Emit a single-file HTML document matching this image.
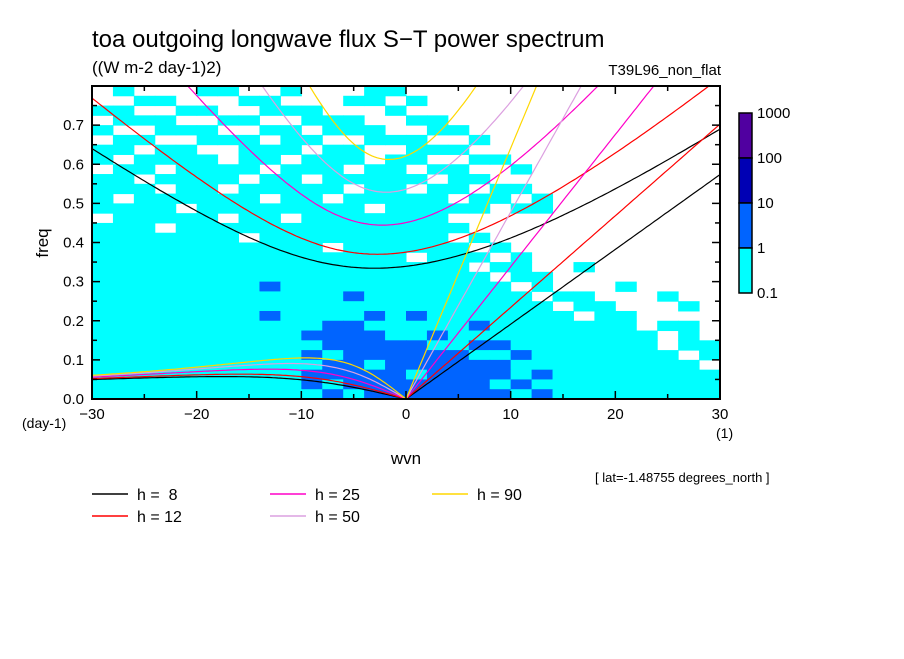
<!DOCTYPE html>
<html><head><meta charset="utf-8"><style>
html,body{margin:0;padding:0;background:#fff;}
svg text{font-family:"Liberation Sans",sans-serif;fill:#000;}
</style></head><body>
<svg id="chart" width="904" height="654" viewBox="0 0 904 654" xmlns="http://www.w3.org/2000/svg">
<defs><clipPath id="plotclip"><rect x="92" y="86" width="628" height="313"/></clipPath></defs>
<text x="92" y="47" font-size="24">toa outgoing longwave flux S−T power spectrum</text>
<text x="92" y="73" font-size="17">((W m-2 day-1)2)</text>
<text x="721" y="75" font-size="15" text-anchor="end">T39L96_non_flat</text>
<g id="heat" clip-path="url(#plotclip)"></g>
<g id="curves" clip-path="url(#plotclip)"></g>
<rect x="92" y="86" width="628" height="313" fill="none" stroke="#000" stroke-width="2"/>
<g id="axes"></g>
<text x="48" y="243" font-size="17" text-anchor="middle" transform="rotate(-90 48 243)">freq</text>
<text x="22" y="428" font-size="14">(day-1)</text>
<text x="716" y="438" font-size="14">(1)</text>
<text x="406" y="464" font-size="17" text-anchor="middle">wvn</text>
<text x="595" y="482" font-size="13">[ lat=-1.48755 degrees_north ]</text>
<g id="cbar"></g>
<g id="legend"></g>
</svg>
<script>
const depths = [8, 12, 25, 50, 90];
const depthColors = ['#000000', '#ff0000', '#ff00c8', '#dca0e0', '#ffd700'];
const legendLabels = ['h =  8', 'h = 12', 'h = 25', 'h = 50', 'h = 90'];
const levelColors = ['#ffffff', '#00ffff', '#0064ff', '#0000b4', '#5000a0'];
const colorbarLabels = ['1000', '100', '10', '1', '0.1'];
const xTicks = [-30, -20, -10, 0, 10, 20, 30];
const yTicks = [0.0, 0.1, 0.2, 0.3, 0.4, 0.5, 0.6, 0.7];
// heatmap levels: rows from freq 0.80 (top) down to 0.00, each 0.025; columns wvn -30..30 in steps of 2
const heatRows = [
"010001100100011000000000000000",
"001100011000110100000000000000",
"110011001110001000000000000000",
"011100110011100110000000000000",
"100111001101110011000000000000",
"011001110110011100100000000000",
"110110011101100111000000000000",
"101111011011101100110000000000",
"011011110111011011001000000000",
"110111101101111101100000000000",
"111011011111011011011000000000",
"101111110110111110110100000000",
"111101111111101111101100000000",
"011111011011111110000000000000",
"111011111111111111000000000000",
"111111101111111110100000000000",
"111111111110111111010000000000",
"111111111111111011101000000000",
"111111111111111111011001000000",
"111111111111111111101100000000",
"111111112111111111110100010000",
"111111111111211111111011000100",
"111111111111111111111101100010",
"111111112111121211111110110000",
"111111111112211111211111110110",
"111111111122221121111111111010",
"111111111112222211221111111011",
"111111111121222222112111111101",
"111111111112212222221111111110",
"111111111122222122221211111111",
"111111111121222222212111111111",
"111111111112122222221211111111"
];
const NS='http://www.w3.org/2000/svg';
const X0=92,X1=720,Y0=399,Y1=86;
function xs(k){return X0+(k+30)/60*(X1-X0);}
function ys(f){return Y0-f/0.8*(Y0-Y1);}
function mk(tag,attrs,parent){const e=document.createElementNS(NS,tag);for(const a in attrs)e.setAttribute(a,attrs[a]);parent.appendChild(e);return e;}
const heat=document.getElementById('heat');
const rowH=0.8/heatRows.length;
heatRows.forEach((row,r)=>{
  for(let c=0;c<row.length;c++){
    const lv=+row[c]; if(lv===0) continue;
    const k0=-30+2*c, f1=0.8-rowH*r, f0=f1-rowH;
    const e=mk('rect',{x:xs(k0),y:ys(f1),width:xs(k0+2)-xs(k0)+0.5,height:ys(f0)-ys(f1)+0.5,fill:levelColors[lv]},heat);
    
    
  }
});
const g=9.81,Rad=6.371e6,Om=7.292e-5,beta=2*Om/Rad,cpd=86400/(2*Math.PI);
function roots(s,c){
  const kk=s/Rad;
  const p=-(kk*kk*c*c+3*beta*c), q=-beta*kk*c*c;
  const m=2*Math.sqrt(-p/3);
  const th=Math.acos(Math.max(-1,Math.min(1,(3*q/(2*p))*Math.sqrt(-3/p))))/3;
  const r=[0,1,2].map(i=>m*Math.cos(th-2*Math.PI*i/3));
  r.sort((a,b)=>b-a);return r;
}
const curves=document.getElementById('curves');
depths.forEach((h,i)=>{
  const c=Math.sqrt(g*h);
  let ig=[],er=[],kv=[];
  for(let s=-30;s<=30.001;s+=0.25){
    const r=roots(s,c);
    ig.push([xs(s),ys(r[0]*cpd)]);
    if(s<=0) er.push([xs(s),ys(Math.max(0,r[1])*cpd)]);
    if(s>=0) kv.push([xs(s),ys(c*s/Rad*cpd)]);
  }
  [['ig',ig],['er',er],['kelvin',kv]].forEach(([n,pts])=>{
    const e=mk('polyline',{points:pts.map(p=>p[0].toFixed(1)+','+p[1].toFixed(1)).join(' '),fill:'none',stroke:depthColors[i],'stroke-width':1.2},curves);
    
    
  });
});
const axes=document.getElementById('axes');
for(let k=-30;k<=30;k+=5){
  const L=(k%10===0)?8:5;
  mk('line',{x1:xs(k),y1:Y0,x2:xs(k),y2:Y0-L,stroke:'#000','stroke-width':1.5},axes);
  mk('line',{x1:xs(k),y1:Y1,x2:xs(k),y2:Y1+L,stroke:'#000','stroke-width':1.5},axes);
}
for(let j=0;j<=16;j++){
  const f=j*0.05,L=(j%2===0)?8:5;
  mk('line',{x1:X0,y1:ys(f),x2:X0+L,y2:ys(f),stroke:'#000','stroke-width':1.5},axes);
  mk('line',{x1:X1,y1:ys(f),x2:X1-L,y2:ys(f),stroke:'#000','stroke-width':1.5},axes);
}
xTicks.forEach(k=>{
  const t=mk('text',{x:xs(k),y:419,'font-size':15,'text-anchor':'middle'},axes);
  t.textContent=(k<0?'−':'')+Math.abs(k);
  
  
});
yTicks.forEach(f=>{
  const t=mk('text',{x:84,y:ys(f)+5,'font-size':15,'text-anchor':'end'},axes);
  t.textContent=f.toFixed(1);
  
  
});
const cb=document.getElementById('cbar');
const cbTop=113,cbH=45;
for(let i=0;i<4;i++){
  const e=mk('rect',{x:739,y:cbTop+i*cbH,width:13,height:cbH,fill:levelColors[4-i],stroke:'#000','stroke-width':1.5},cb);
  
  
}
colorbarLabels.forEach((l,i)=>{
  const t=mk('text',{x:757,y:cbTop+i*cbH+5,'font-size':15},cb);
  t.textContent=l;
  
  
});
const lg=document.getElementById('legend');
const lpos=[[92,494],[92,516],[270,494],[270,516],[432,494]];
depths.forEach((h,i)=>{
  const [x,y]=lpos[i];
  const ln=mk('line',{x1:x,y1:y,x2:x+36,y2:y,stroke:depthColors[i],'stroke-width':1.5},lg);
  
  
  const t=mk('text',{x:x+45,y:y+6,'font-size':16},lg);
  t.setAttribute('style','white-space:pre');
  t.textContent=legendLabels[i];
  
  
});
</script>
</body></html>
